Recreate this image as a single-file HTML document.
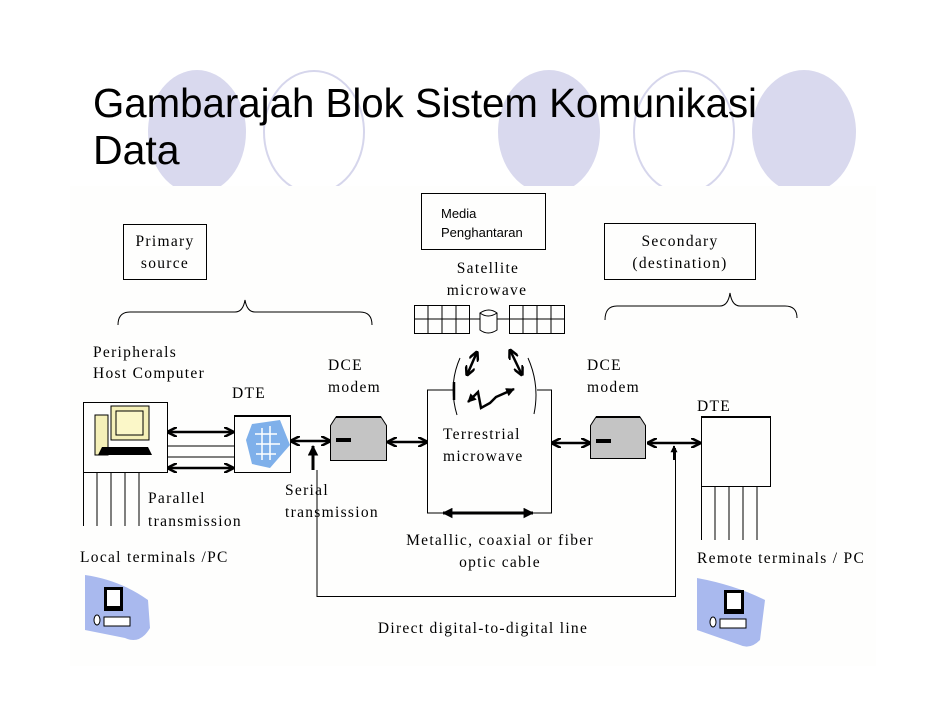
<!DOCTYPE html>
<html><head><meta charset="utf-8"><style>
html,body{margin:0;padding:0;background:#fff;}
svg{display:block;}
.s{font-family:"Liberation Serif",serif;font-size:15.5px;fill:#000;letter-spacing:1.3px;}
.a{font-family:"Liberation Sans",sans-serif;}
</style></head><body>
<svg width="942" height="728" viewBox="0 0 942 728" xmlns="http://www.w3.org/2000/svg">
<defs>
<marker id="ah" viewBox="0 0 10 10" refX="9" refY="5" markerWidth="4" markerHeight="4" orient="auto-start-reverse">
<path d="M0,0 L10,5 L0,10" fill="none" stroke="#000" stroke-width="2.5"/></marker>
<marker id="tri" viewBox="0 0 10 10" refX="9" refY="5" markerWidth="3.5" markerHeight="3.5" orient="auto-start-reverse">
<path d="M0,0 L10,5 L0,10z" fill="#000"/></marker>
</defs>
<ellipse cx="197" cy="132" rx="49" ry="62" fill="#d9d9ee"/>
<ellipse cx="314" cy="132" rx="50" ry="61" fill="none" stroke="#d6d6ec" stroke-width="2"/>
<ellipse cx="549" cy="132" rx="51" ry="62" fill="#d9d9ee"/>
<ellipse cx="684" cy="132" rx="50" ry="61" fill="none" stroke="#d6d6ec" stroke-width="2"/>
<ellipse cx="804" cy="132" rx="52" ry="62" fill="#d9d9ee"/>
<rect x="70" y="186" width="806" height="480" fill="#fefefd"/>
<text x="93" y="117" class="a" font-size="41" textLength="664" lengthAdjust="spacingAndGlyphs">Gambarajah Blok Sistem Komunikasi</text>
<text x="93" y="164" class="a" font-size="41">Data</text>

<g stroke="#000" fill="none" stroke-width="1">
<rect x="123.5" y="224.5" width="83" height="55"/>
<rect x="421.5" y="193.5" width="124" height="56"/>
<rect x="604.5" y="223.5" width="151" height="56"/>
<path d="M118,325 Q118,312 130,312 L235,312 Q243,312 245,300 Q247,312 255,312 L360,312 Q372,312 372,325"/>
<path d="M605,320 Q605,306 617,306 L720,306 Q728,306 730,293 Q732,306 740,306 L785,306 Q797,306 797,318"/>
<rect x="414.5" y="305.5" width="55" height="28"/>
<path d="M428,305v28M442,305v28M456,305v28M414,319h55"/>
<rect x="509.5" y="305.5" width="55" height="28"/>
<path d="M523,305v28M537,305v28M551,305v28M509,319h55"/>
<path d="M469,319h11M497,319h12"/>
<path d="M480,313 v17 q8,6 17,0 v-17 q-8,-6 -17,0 q8,6 17,0"/>
<path d="M460,358 Q448,385 457,415"/>
<path d="M528,358 Q540,385 534,414"/>
<path d="M454,390 H427.5 V513 H551.5 V390 H537"/>
<path d="M454,382 v18" stroke-width="2.5"/>
<rect x="83.5" y="402.5" width="84" height="70" />
<path d="M83.5,472v54M97,472v54M111,472v54M125,472v54M139,472v54" />
<path d="M168,446h66M168,457h66"/>
<rect x="234.5" y="416.5" width="56" height="56"/>
<path d="M234,416h57" stroke-width="2"/>
<rect x="701.5" y="417.5" width="69" height="69"/>
<path d="M701,417h70" stroke-width="2"/>
<path d="M701.5,486v54M715,486v54M729,486v54M743,486v54M757,486v54"/>
<path d="M317,470 V596.5 H675.5 V448"/>
</g>
<g stroke="#000" stroke-width="2.5" fill="none" marker-start="url(#ah)" marker-end="url(#ah)">
<path d="M168,432 H233"/>
<path d="M168,468 H233"/>
<path d="M291,441 H330"/>
<path d="M388,442 H427"/>
<path d="M552,443 H590"/>
<path d="M648,443 H700"/>
<path d="M477,352 L467,375"/>
<path d="M510,350 L522,375"/>
</g>
<g stroke="#000" stroke-width="3" fill="none">
<path d="M443,513 H533" marker-start="url(#tri)" marker-end="url(#tri)"/>
<path d="M313,470 V446" marker-end="url(#tri)"/>
<path d="M674,460 V446" marker-end="url(#tri)" stroke-width="2"/>
<path d="M468,402 L478,392 L481,408 L490,403 L496,397 L514,389" marker-start="url(#tri)" marker-end="url(#tri)" stroke-width="2.5"/>
</g>
<g stroke="#000" stroke-width="1">
<path d="M330.5,425.5 L336,417 H381 L386.5,425.5 V460.5 H330.5 Z" fill="#c4c4c4"/>
<path d="M336,417H381" stroke-width="2"/>
<path d="M590.5,425.5 L596,417 H640 L645.5,425.5 V458.5 H590.5 Z" fill="#c4c4c4"/>
<path d="M596,417H640" stroke-width="2"/>
</g>
<rect x="336" y="438" width="15" height="4" fill="#000"/>
<rect x="596" y="439" width="15" height="4" fill="#000"/>
<rect x="95" y="415" width="13" height="40" fill="#f5f0b8" stroke="#000"/>
<rect x="111" y="406" width="38" height="34" fill="#f5f0b8" stroke="#000"/>
<rect x="116" y="411" width="27" height="24" fill="#fbf7c8" stroke="#000"/>
<path d="M102,447 H148 L152,455 H98 Z" fill="#000"/>
<path d="M252,424 L280,420 L290,445 L270,468 L252,464 L246,440 Z" fill="#7fb0ea"/>
<path d="M255,434h22M256,444h24M256,454h20M262,428v32M270,426v34" stroke="#fff" stroke-width="1.5"/>
<g>
<path d="M85,575 Q120,580 148,600 L150,628 Q140,645 125,638 L85,630 Z" fill="#a9b9ee"/>
<rect x="104" y="587" width="19" height="24" fill="#000"/><rect x="107" y="590" width="13" height="16" fill="#fff"/>
<rect x="104" y="617" width="26" height="9" fill="#fff" stroke="#000"/>
<ellipse cx="97" cy="620" rx="3" ry="5" fill="#fff" stroke="#000"/>
<path d="M697,578 Q735,585 765,600 L760,640 Q750,650 740,645 L697,630 Z" fill="#a9b9ee"/>
<rect x="724" y="590" width="20" height="24" fill="#000"/><rect x="727" y="593" width="14" height="16" fill="#fff"/>
<rect x="720" y="619" width="26" height="9" fill="#fff" stroke="#000"/>
<ellipse cx="713" cy="622" rx="3" ry="5" fill="#fff" stroke="#000"/>
</g>
<text class="s" x="165" y="246" text-anchor="middle">Primary</text>
<text class="s" x="165" y="268" text-anchor="middle">source</text>
<text class="a" font-size="13" x="441" y="218">Media</text>
<text class="a" font-size="13" x="441" y="237">Penghantaran</text>
<text class="s" x="680" y="246" text-anchor="middle">Secondary</text>
<text class="s" x="680" y="268" text-anchor="middle">(destination)</text>
<text class="s" x="488" y="273" text-anchor="middle">Satellite</text>
<text class="s" x="487" y="295" text-anchor="middle">microwave</text>
<text class="s" x="93" y="357">Peripherals</text>
<text class="s" x="93" y="378">Host Computer</text>
<text class="s" x="232" y="398">DTE</text>
<text class="s" x="328" y="370">DCE</text>
<text class="s" x="328" y="392">modem</text>
<text class="s" x="587" y="370">DCE</text>
<text class="s" x="587" y="392">modem</text>
<text class="s" x="697" y="411">DTE</text>
<text class="s" x="443" y="439">Terrestrial</text>
<text class="s" x="443" y="461">microwave</text>
<text class="s" x="148" y="503">Parallel</text>
<text class="s" x="148" y="526">transmission</text>
<text class="s" x="285" y="495">Serial</text>
<text class="s" x="285" y="517">transmission</text>
<text class="s" x="500" y="545" text-anchor="middle">Metallic, coaxial or fiber</text>
<text class="s" x="500" y="567" text-anchor="middle">optic cable</text>
<text class="s" x="80" y="562">Local terminals /PC</text>
<text class="s" x="697" y="563">Remote terminals / PC</text>
<text class="s" x="483" y="633" text-anchor="middle">Direct digital-to-digital line</text>
</svg>
</body></html>
